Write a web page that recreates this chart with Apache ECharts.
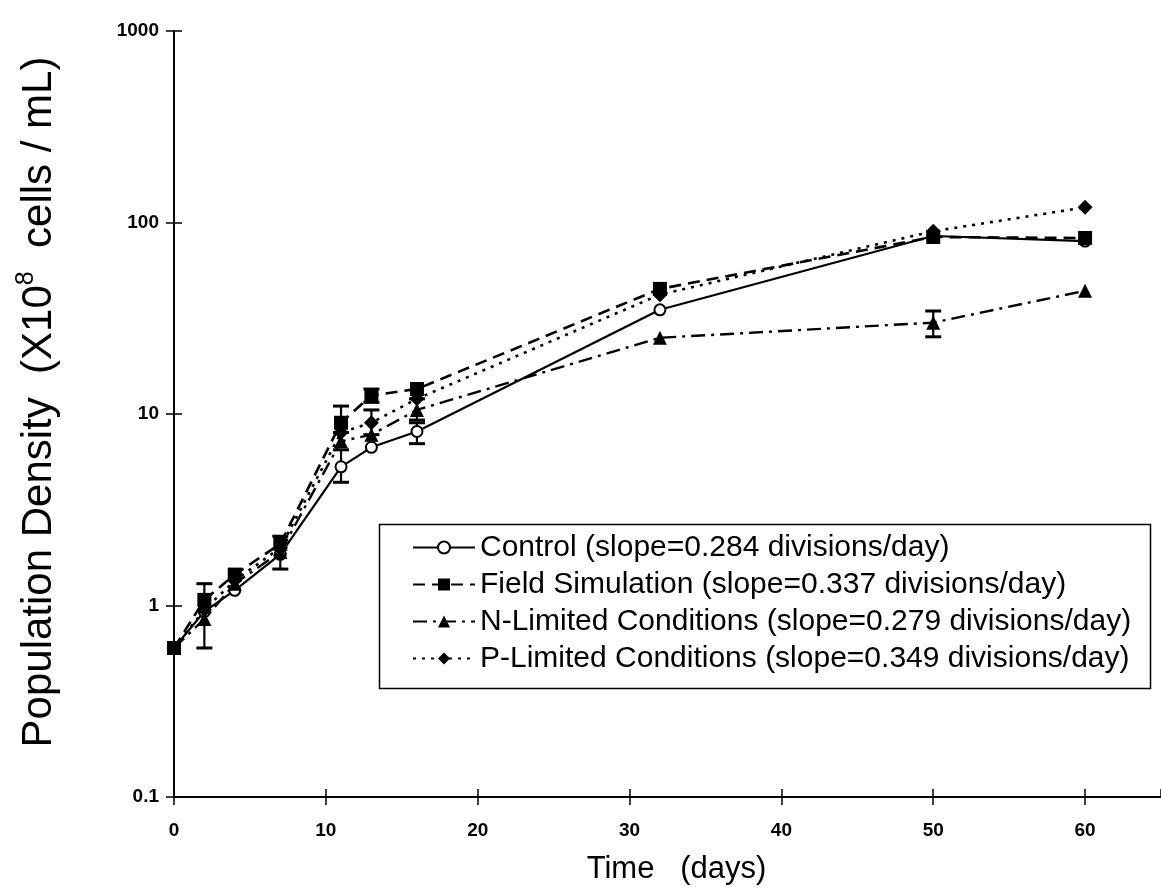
<!DOCTYPE html>
<html><head><meta charset="utf-8">
<script src="https://cdn.jsdelivr.net/npm/echarts@6/dist/echarts.min.js"></script>
<style>html,body{margin:0;padding:0;background:#fff}#c{width:1161px;height:896px}</style>
</head><body><div id="c"></div>
<script>
// ---- data ----
const days = [0, 2, 4, 7, 11, 13, 16, 32, 50, 60];
const seriesNames = [
  'Control (slope=0.284 divisions/day)',
  'Field Simulation (slope=0.337 divisions/day)',
  'N-Limited Conditions (slope=0.279 divisions/day)',
  'P-Limited Conditions (slope=0.349 divisions/day)'
];
const control  = [0.6, 0.93, 1.2, 1.85, 5.3, 6.7, 8.1, 35, 85, 80];
const field    = [0.6, 1.07, 1.45, 2.1, 9.0, 12.5, 13.5, 45, 84, 83];
const nLimited = [0.6, 0.85, 1.3, 1.9, 7.2, 7.8, 10.5, 25, 30, 44];
const pLimited = [0.6, 0.95, 1.35, 2.0, 8.0, 9.0, 12.0, 42, 90, 120];
// error bars (low / high), null = none drawn
const controlLow  = [null, null, null, null, 4.4, null, 7.0, null, null, null];
const controlHigh = [null, null, null, null, 6.5, null, 9.0, null, null, null];
const fieldLow    = [null, null, null, null, 8.0, 11.5, null, null, null, null];
const fieldHigh   = [null, null, null, null, 11.0, 13.5, null, null, null, null];
const nLow        = [null, 0.6, null, 1.55, null, null, 9.3, null, 25.3, null];
const nHigh       = [null, 1.3, null, 2.3, null, null, 12.0, null, 34.5, null];
const pLow        = [null, null, null, null, null, 7.8, null, null, null, null];
const pHigh       = [null, null, null, null, null, 10.5, null, null, null, null];
const xTickLabels = ['0', '10', '20', '30', '40', '50', '60'];
const yTickLabels = ['0.1', '1', '10', '100', '1000'];

const FONT = 'Liberation Sans';
const chart = echarts.init(document.getElementById('c'), null, {renderer: 'canvas'});

function pairs(arr) { return days.map((d, i) => [d, arr[i]]); }
function errSeries(id, low, high) {
  const data = [];
  days.forEach((d, i) => { if (low[i] != null) data.push([d, low[i], high[i]]); });
  return {
    type: 'custom', name: id, silent: true, z: 3,
    encode: {x: 0, y: [1, 2]},
    renderItem(params, api) {
      const x = api.value(0);
      const p1 = api.coord([x, api.value(1)]);
      const p2 = api.coord([x, api.value(2)]);
      const w = 8;
      const st = {stroke: '#000', lineWidth: 2.2};
      return {type: 'group', children: [
        {type: 'line', shape: {x1: p1[0], y1: p1[1], x2: p2[0], y2: p2[1]}, style: st},
        {type: 'line', shape: {x1: p1[0] - w, y1: p1[1], x2: p1[0] + w, y2: p1[1]}, style: {stroke: '#000', lineWidth: 3}},
        {type: 'line', shape: {x1: p2[0] - w, y1: p2[1], x2: p2[0] + w, y2: p2[1]}, style: {stroke: '#000', lineWidth: 3}}
      ]};
    },
    data
  };
}

const axisLabelX = {
  color: '#000', fontFamily: FONT, fontWeight: 'bold', fontSize: 19, margin: 24,
  showMaxLabel: false,
  formatter: v => { const k = Math.round(v / 10); return (Math.abs(v - k * 10) < 1e-6 && xTickLabels[k] != null) ? xTickLabels[k] : ''; }
};
const axisLabelY = {
  color: '#000', fontFamily: FONT, fontWeight: 'bold', fontSize: 19, margin: 15,
  formatter: v => { const k = Math.round(Math.log10(v)); return yTickLabels[k + 1] || ''; }
};

chart.setOption({
  backgroundColor: '#fff',
  animation: false,
  grid: {left: 174, top: 31, width: 994.5, height: 766, containLabel: false},
  xAxis: [{
    type: 'value', min: 0, max: 65, interval: 10, position: 'bottom',
    axisLine: {show: true, onZero: false, lineStyle: {color: '#000', width: 2}},
    axisTick: {show: true, length: 8, lineStyle: {color: '#000', width: 1.5}},
    splitLine: {show: false},
    axisLabel: axisLabelX,
    name: 'Time   (days)', nameLocation: 'middle', nameGap: 57,
    nameTextStyle: {color: '#000', fontFamily: FONT, fontSize: 31, padding: [0, 0, 0, 18]}
  }, {
    type: 'value', min: 0, max: 65, interval: 10, position: 'bottom',
    axisLine: {show: false}, axisLabel: {show: false}, splitLine: {show: false},
    axisTick: {show: true, inside: true, length: 8, lineStyle: {color: '#000', width: 1.5}}
  }],
  yAxis: [{
    type: 'log', logBase: 10, min: 0.1, max: 1000, position: 'left',
    axisLine: {show: true, onZero: false, lineStyle: {color: '#000', width: 2}},
    axisTick: {show: true, length: 8, lineStyle: {color: '#000', width: 1.5}},
    minorTick: {show: false}, splitLine: {show: false},
    axisLabel: axisLabelY,
    name: '{a|Population Density  (X10}{s|8}{a|  cells / mL)}',
    nameLocation: 'middle', nameGap: 110, nameRotate: 90,
    nameTextStyle: {
      color: '#000', fontFamily: FONT, fontSize: 42, padding: [0, 0, 0, 24],
      rich: {
        a: {color: '#000', fontFamily: FONT, fontSize: 42, lineHeight: 50},
        s: {color: '#000', fontFamily: FONT, fontSize: 25, lineHeight: 50, verticalAlign: 'top', padding: [0, 0, 17, 0]}
      }
    }
  }, {
    type: 'log', logBase: 10, min: 0.1, max: 1000, position: 'left',
    axisLine: {show: false}, axisLabel: {show: false}, splitLine: {show: false}, minorTick: {show: false},
    axisTick: {show: true, inside: true, length: 8, lineStyle: {color: '#000', width: 1.5}}
  }],
  legend: {
    orient: 'vertical', left: 412, top: 532, padding: 0,
    itemWidth: 62, itemHeight: 15, itemGap: 6, selectedMode: false,
    textStyle: {color: '#000', fontFamily: FONT, fontSize: 30, lineHeight: 31},
    data: seriesNames
  },
  graphic: [{
    type: 'rect', left: 377, top: 522, z: 100, silent: true,
    shape: {width: 771, height: 164},
    style: {fill: 'none', stroke: '#000', lineWidth: 1.5}
  }],
  series: [
    errSeries('err-control', controlLow, controlHigh),
    errSeries('err-field', fieldLow, fieldHigh),
    errSeries('err-n', nLow, nHigh),
    errSeries('err-p', pLow, pHigh),
    {
      type: 'line', name: seriesNames[0], data: pairs(control), z: 4,
      symbol: 'circle', symbolSize: 11,
      lineStyle: {color: '#000', width: 2.2, type: 'solid'},
      itemStyle: {color: '#fff', borderColor: '#000', borderWidth: 2}
    },
    {
      type: 'line', name: seriesNames[1], data: pairs(field), z: 5,
      symbol: 'rect', symbolSize: 14,
      lineStyle: {color: '#000', width: 2.6, type: [12, 7]},
      itemStyle: {color: '#000'}
    },
    {
      type: 'line', name: seriesNames[2], data: pairs(nLimited), z: 5,
      symbol: 'triangle', symbolSize: 14,
      lineStyle: {color: '#000', width: 2.4, type: [14, 6, 3, 6]},
      itemStyle: {color: '#000'}
    },
    {
      type: 'line', name: seriesNames[3], data: pairs(pLimited), z: 5,
      symbol: 'diamond', symbolSize: 15,
      lineStyle: {color: '#000', width: 2.6, type: [3, 6]},
      itemStyle: {color: '#000'}
    }
  ]
});
</script></body></html>
